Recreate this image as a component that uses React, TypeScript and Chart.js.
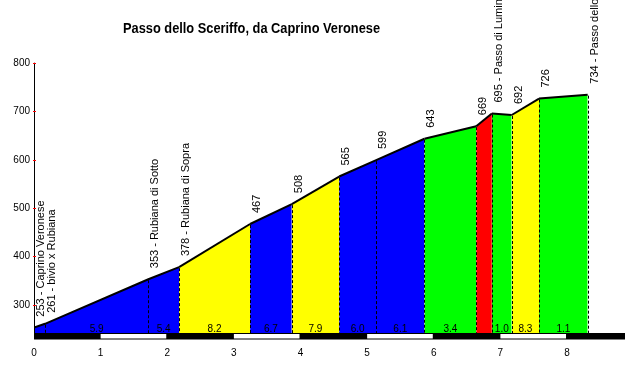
import React, { useEffect, useRef } from "react";
import { Chart, registerables } from "chart.js";

Chart.register(...registerables);

const TITLE = "Passo dello Sceriffo, da Caprino Veronese";
const KM = [0, 0.165, 1.716, 2.177, 3.243, 3.869, 4.58, 5.135, 5.86, 6.637, 6.872, 7.17, 7.58, 8.31];
const ELEV = [253, 261, 353, 378, 467, 508, 565, 599, 643, 669, 695, 692, 726, 734];
const POINT_LABELS = [
  "253 - Caprino Veronese",
  "261 - bivio x Rubiana",
  "353 - Rubiana di Sotto",
  "378 - Rubiana di Sopra",
  "467",
  "508",
  "565",
  "599",
  "643",
  "669",
  "695 - Passo di Lumini",
  "692",
  "726",
  "734 - Passo dello Sceriffo",
];
const GRADES = ["", "5.9", "5.4", "8.2", "6.7", "7.9", "6.0", "6.1", "3.4", "", "1.0", "8.3", "1.1"];
const X_TICKS = [0, 1, 2, 3, 4, 5, 6, 7, 8];
const Y_TICKS = [300, 400, 500, 600, 700, 800];

const BLUE = "#0000ff";
const YELLOW = "#ffff00";
const GREEN = "#00ff00";
const RED = "#ff0000";
const SEGMENT_COLORS = [BLUE, BLUE, BLUE, YELLOW, BLUE, YELLOW, BLUE, BLUE, GREEN, RED, GREEN, YELLOW, GREEN];

const X_MAX = 8.87;
const Y_MIN = 242;
const Y_MAX = 800;
const FONT = "'Liberation Sans', Arial, sans-serif";

const profilePlugin = {
  id: "profileDecor",
  beforeDraw(chart: any) {
    const { ctx, width, height } = chart;
    ctx.save();
    ctx.fillStyle = "#ffffff";
    ctx.fillRect(0, 0, width, height);
    ctx.restore();
  },
  afterDatasetsDraw(chart: any) {
    const { ctx, chartArea, scales } = chart;
    const xs = scales.x;
    const ys = scales.y;
    const bottom = chartArea.bottom;
    ctx.save();
    // dashed dividers
    ctx.strokeStyle = "#000000";
    ctx.lineWidth = 1;
    ctx.setLineDash([3, 2]);
    for (let i = 1; i < KM.length; i++) {
      const px = Math.round(xs.getPixelForValue(KM[i])) + 0.5;
      const py = ys.getPixelForValue(ELEV[i]);
      ctx.beginPath();
      ctx.moveTo(px, py + 1);
      ctx.lineTo(px, bottom);
      ctx.stroke();
    }
    ctx.setLineDash([]);
    // grade labels
    ctx.fillStyle = "#000000";
    ctx.font = `10px ${FONT}`;
    ctx.textAlign = "center";
    ctx.textBaseline = "alphabetic";
    for (let i = 0; i < GRADES.length; i++) {
      if (!GRADES[i]) continue;
      const mid = (xs.getPixelForValue(KM[i]) + xs.getPixelForValue(KM[i + 1])) / 2;
      ctx.fillText(GRADES[i], mid, bottom - 1.5);
    }
    ctx.restore();
  },
  afterDraw(chart: any) {
    const { ctx, chartArea, scales, width } = chart;
    const xs = scales.x;
    const ys = scales.y;
    const left = chartArea.left;
    const bottom = chartArea.bottom;
    ctx.save();
    // y axis line
    ctx.strokeStyle = "#000000";
    ctx.lineWidth = 1;
    ctx.beginPath();
    ctx.moveTo(left + 0.5, chartArea.top);
    ctx.lineTo(left + 0.5, bottom);
    ctx.stroke();
    // y ticks
    ctx.font = `10px ${FONT}`;
    ctx.textAlign = "right";
    ctx.textBaseline = "middle";
    for (const v of Y_TICKS) {
      const py = Math.round(ys.getPixelForValue(v)) + 0.5;
      ctx.strokeStyle = "#ff0000";
      ctx.beginPath();
      ctx.moveTo(left - 1, py);
      ctx.lineTo(left + 2, py);
      ctx.stroke();
      ctx.fillStyle = "#000000";
      ctx.fillText(String(v), left - 4, py);
    }
    // km bar
    const barTop = bottom;
    const barH = 6.5;
    ctx.fillStyle = "#000000";
    ctx.fillRect(left, barTop, width - left, barH);
    ctx.fillStyle = "#ffffff";
    for (let k = 1; k < X_MAX; k += 2) {
      const x0 = xs.getPixelForValue(k);
      const x1 = xs.getPixelForValue(Math.min(k + 1, X_MAX));
      ctx.fillRect(x0, barTop + 1, x1 - x0 - 1, barH - 2);
    }
    // x tick labels
    ctx.fillStyle = "#000000";
    ctx.font = `10px ${FONT}`;
    ctx.textAlign = "center";
    ctx.textBaseline = "middle";
    for (const v of X_TICKS) {
      ctx.fillText(String(v), xs.getPixelForValue(v), 353);
    }
    // rotated point labels
    ctx.font = `11px ${FONT}`;
    ctx.textAlign = "left";
    ctx.textBaseline = "alphabetic";
    for (let i = 0; i < KM.length; i++) {
      const px = xs.getPixelForValue(KM[i]);
      const py = ys.getPixelForValue(ELEV[i]);
      ctx.save();
      ctx.translate(px + 10, py - 11);
      ctx.rotate(-Math.PI / 2);
      ctx.fillText(POINT_LABELS[i], 0, 0);
      ctx.restore();
    }
    // title
    ctx.font = `bold 15px ${FONT}`;
    ctx.textAlign = "left";
    ctx.textBaseline = "middle";
    ctx.fillText(TITLE, 123, 29, 257);
    ctx.restore();
  },
};

export default function App() {
  const canvasRef = useRef<HTMLCanvasElement | null>(null);

  useEffect(() => {
    if (!canvasRef.current) return;
    const points = KM.map((k, i) => ({ x: k, y: ELEV[i] }));
    const chart = new Chart(canvasRef.current, {
      type: "line",
      data: {
        datasets: [
          {
            data: points,
            borderColor: "#000000",
            borderWidth: 2,
            pointRadius: 0,
            tension: 0,
            fill: "start",
            backgroundColor: BLUE,
            segment: {
              backgroundColor: (c: any) => SEGMENT_COLORS[c.p0DataIndex],
            },
          },
        ],
      },
      options: {
        animation: false,
        responsive: false,
        events: [],
        layout: { padding: { left: 34, top: 62.7, right: 0, bottom: 52 } },
        plugins: {
          legend: { display: false },
          title: { display: false },
          tooltip: { enabled: false },
        },
        scales: {
          x: { type: "linear", min: 0, max: X_MAX, display: false },
          y: { type: "linear", min: Y_MIN, max: Y_MAX, display: false },
        },
      },
      plugins: [profilePlugin],
    } as any);
    return () => chart.destroy();
  }, []);

  return (
    <div style={{ position: "fixed", left: 0, top: 0, width: 625, height: 385, background: "#fff" }}>
      <canvas ref={canvasRef} width={625} height={385} style={{ display: "block", width: 625, height: 385 }} />
    </div>
  );
}
